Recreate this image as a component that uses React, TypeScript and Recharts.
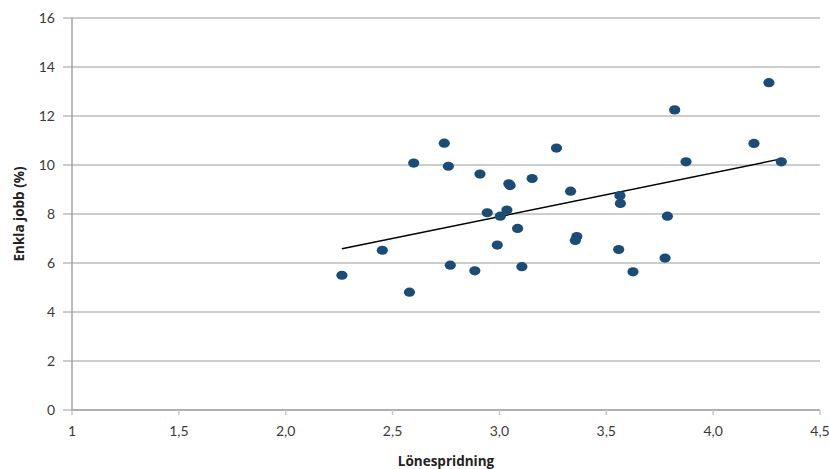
import {
  ScatterChart,
  Scatter,
  XAxis,
  YAxis,
  CartesianGrid,
  ReferenceLine,
  Label,
} from "recharts";

// Lönespridning (x) per observation
const spread = [
  2.263, 2.452, 2.579, 2.599, 2.742, 2.761, 2.77, 2.885, 2.909, 2.943, 2.99,
  3.004, 3.035, 3.044, 3.05, 3.085, 3.105, 3.153, 3.267, 3.333, 3.362, 3.355,
  3.558, 3.564, 3.566, 3.625, 3.775, 3.786, 3.82, 3.873, 4.191, 4.261, 4.319,
];

// Enkla jobb (%) per observation
const simpleJobs = [
  5.5, 6.52, 4.81, 10.08, 10.89, 9.95, 5.91, 5.68, 9.63, 8.05, 6.73, 7.91,
  8.16, 9.23, 9.16, 7.41, 5.85, 9.45, 10.69, 8.93, 7.08, 6.92, 6.55, 8.75,
  8.43, 5.64, 6.2, 7.91, 12.25, 10.13, 10.88, 13.36, 10.13,
];

// linear trend line end points
const trendX = [2.263, 4.319];
const trendY = [6.58, 10.25];

const xTicks = [1, 1.5, 2, 2.5, 3, 3.5, 4, 4.5];
const xTickLabels = ["1", "1,5", "2,0", "2,5", "3,0", "3,5", "4,0", "4,5"];
const yTicks = [0, 2, 4, 6, 8, 10, 12, 14, 16];

const points = spread.map((x, i) => ({ x, y: simpleJobs[i] }));

const FONT = "Lato, 'Open Sans', sans-serif";
const TITLE_FONT = "'Open Sans', Lato, sans-serif";
const DOT = "#1b4c76";

function Dot(props: any) {
  const { cx, cy } = props;
  if (cx == null || cy == null) return <g />;
  return <ellipse cx={cx} cy={cy} rx={5.6} ry={4.6} fill={DOT} />;
}

function YTitle(props: any) {
  const vb = props.viewBox || { x: 0, y: 0, width: 0, height: 0 };
  const cx = 19;
  const cy = vb.y + vb.height / 2;
  return (
    <text
      x={cx}
      y={cy}
      transform={`rotate(-90, ${cx}, ${cy})`}
      textAnchor="middle"
      dominantBaseline="central"
      fontFamily={TITLE_FONT}
      fontWeight={700}
      fontSize={13.5}
      fill="#222"
    >
      Enkla jobb (%)
    </text>
  );
}

export default function App() {
  return (
    <div style={{ width: 829, height: 469 }}>
      <style>{`body{margin:0;}`}</style>
      <ScatterChart
        width={829}
        height={469}
        margin={{ top: 18, right: 9, left: 0, bottom: 0 }}
      >
        <CartesianGrid
          horizontal={true}
          vertical={false}
          stroke="#9a9a9a"
          strokeWidth={1}
        />
        <XAxis
          type="number"
          dataKey="x"
          domain={[1, 4.5]}
          ticks={xTicks}
          tickFormatter={(v: number) => xTickLabels[xTicks.indexOf(v)] ?? String(v)}
          height={59}
          tickSize={5}
          tickMargin={11}
          stroke="#a6a6a6"
          strokeWidth={1.5}
          tick={{ fill: "#3a3a3a", fontSize: 14, fontFamily: FONT }}
          tickLine={{ stroke: "#c8c8c8", strokeWidth: 1.5 }}
          allowDataOverflow
        >
          <Label
            value="Lönespridning"
            position="insideBottom"
            offset={3}
            style={{ fontFamily: TITLE_FONT, fontWeight: 700, fontSize: 13.5, fill: "#222" }}
          />
        </XAxis>
        <YAxis
          type="number"
          dataKey="y"
          domain={[0, 16]}
          ticks={yTicks}
          width={72}
          tickSize={9}
          tickMargin={8}
          stroke="#a6a6a6"
          strokeWidth={1.5}
          tick={{ fill: "#3a3a3a", fontSize: 14, fontFamily: FONT }}
          tickLine={{ stroke: "#9a9a9a", strokeWidth: 1 }}
          allowDataOverflow
        >
          <Label content={<YTitle />} />
        </YAxis>
        <ReferenceLine
          segment={[
            { x: trendX[0], y: trendY[0] },
            { x: trendX[1], y: trendY[1] },
          ]}
          stroke="#000"
          strokeWidth={1.5}
          ifOverflow="extendDomain"
        />
        <Scatter
          data={points}
          fill={DOT}
          shape={<Dot />}
          isAnimationActive={false}
        />
      </ScatterChart>
    </div>
  );
}
